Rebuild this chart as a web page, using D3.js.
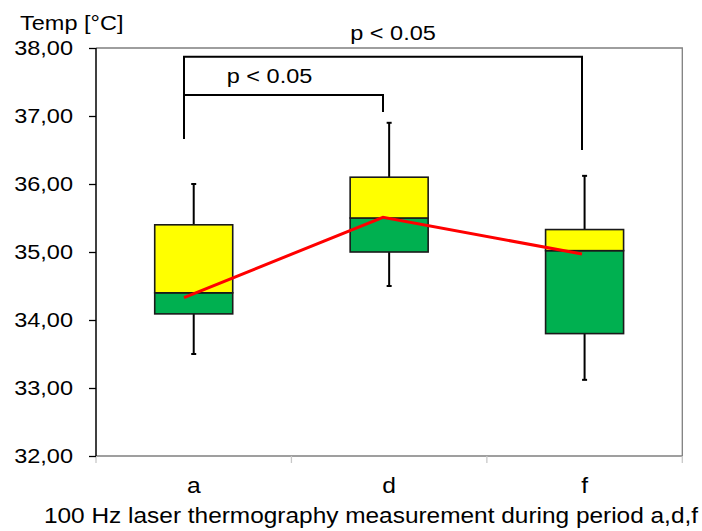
<!DOCTYPE html>
<html>
<head>
<meta charset="utf-8">
<script src="https://cdn.jsdelivr.net/npm/d3@7"></script>
<style>
  html, body { margin: 0; padding: 0; background: #fff; }
  svg { display: block; }
  text { font-family: "Liberation Sans", Arial, sans-serif; fill: #000; }
</style>
</head>
<body>
<svg id="chart" width="702" height="531"></svg>
<script>
// Measurement periods
const categories = ["a", "d", "f"];

// Box plot statistics per period (°C)
const whiskerLow  = [33.50, 34.50, 33.12];
const quartile1   = [34.09, 35.00, 33.80];
const medians     = [34.40, 35.50, 35.02];
const quartile3   = [35.40, 36.10, 35.33];
const whiskerHigh = [36.00, 36.90, 36.12];

// Mean temperature per period (red line)
const means = [34.33, 35.51, 34.97];

// Y axis ticks
const yTicks = [32, 33, 34, 35, 36, 37, 38];

// Significance brackets: compared periods, bracket height, ends of the drops (°C)
const bracketFrom  = ["a", "a"];
const bracketTo    = ["d", "f"];
const bracketLevel = [37.31, 37.87];
const bracketLeftEnd  = [36.66, 36.66];
const bracketRightEnd = [37.06, 36.50];
const bracketLabels = ["p < 0.05", "p < 0.05"];

const axisTitleY = "Temp [°C]";
const axisTitleX = "100 Hz laser thermography measurement during period a,d,f";

const FONT = 21, SX = 1.12;
const svg = d3.select("#chart");
const plotLeft = 96, plotRight = 682.3, plotTop = 48, plotBottom = 456;

const y = d3.scaleLinear().domain([32, 38]).range([plotBottom, plotTop]);
const x = d3.scaleBand().domain(categories).range([plotLeft, plotRight]).paddingInner(0).paddingOuter(0);
// the mean line and the brackets sit on a slightly shifted category axis
const xLine = d3.scalePoint().domain(categories).range([plotLeft + 88, plotLeft + 486]);

const stretch = (sel, size = FONT) => sel.style("font-size", size + "px");

// plot frame (top and right)
svg.append("path")
  .attr("d", `M${plotLeft},${plotTop}H${plotRight}V${plotBottom}`)
  .attr("fill", "none").attr("stroke", "#7f7f7f").attr("stroke-width", 1.3);

// x axis line and category separators
svg.append("line")
  .attr("x1", plotLeft).attr("x2", plotRight).attr("y1", plotBottom).attr("y2", plotBottom)
  .attr("stroke", "#7f7f7f").attr("stroke-width", 1.3);
const sepX = categories.map(c => x(c)).concat([x(categories[categories.length - 1]) + x.bandwidth()]);
svg.append("g").selectAll("line").data(sepX).join("line")
  .attr("x1", d => d).attr("x2", d => d)
  .attr("y1", plotBottom).attr("y2", plotBottom + 7)
  .attr("stroke", "#c8c8c8").attr("stroke-width", 1.3);

// x axis labels
const xAxis = svg.append("g").attr("transform", `translate(0,${plotBottom})`)
  .call(d3.axisBottom(x).tickSize(0).tickPadding(0));
xAxis.select(".domain").remove();
xAxis.attr("font-family", null).attr("font-size", null);
xAxis.selectAll("text")
  .attr("y", 0).attr("dy", 0)
  .attr("transform", `translate(0,37) scale(${SX},1)`)
  .call(stretch, 22);

// y axis
const yAxis = svg.append("g").attr("transform", `translate(${plotLeft},0)`)
  .call(d3.axisLeft(y).tickValues(yTicks).tickSize(7)
        .tickFormat(d => d.toFixed(2).replace(".", ",")));
yAxis.attr("font-family", null).attr("font-size", null);
yAxis.select(".domain").attr("stroke", "#000").attr("stroke-width", 1.5)
  .attr("d", `M0,${plotBottom}V${plotTop}`);
yAxis.selectAll(".tick line").attr("stroke", "#000").attr("stroke-width", 1.3);
yAxis.selectAll(".tick text")
  .attr("x", 0)
  .attr("transform", `translate(-23,0) scale(${SX},1)`)
  .call(stretch);

// whiskers
const boxes = categories.map((c, i) => ({
  c, lo: whiskerLow[i], q1: quartile1[i], med: medians[i], q3: quartile3[i], hi: whiskerHigh[i]
}));
const cx = d => x(d.c) + x.bandwidth() / 2;
const boxW = 78, capW = 5;

const g = svg.append("g");
g.selectAll(".wlow").data(boxes).join("line")
  .attr("x1", cx).attr("x2", cx).attr("y1", d => y(d.q1)).attr("y2", d => y(d.lo))
  .attr("stroke", "#000").attr("stroke-width", 2);
g.selectAll(".whigh").data(boxes).join("line")
  .attr("x1", cx).attr("x2", cx).attr("y1", d => y(d.q3)).attr("y2", d => y(d.hi))
  .attr("stroke", "#000").attr("stroke-width", 2);
g.selectAll(".caplo").data(boxes).join("line")
  .attr("x1", d => cx(d) - capW / 2).attr("x2", d => cx(d) + capW / 2)
  .attr("y1", d => y(d.lo)).attr("y2", d => y(d.lo))
  .attr("stroke", "#000").attr("stroke-width", 2);
g.selectAll(".caphi").data(boxes).join("line")
  .attr("x1", d => cx(d) - capW / 2).attr("x2", d => cx(d) + capW / 2)
  .attr("y1", d => y(d.hi)).attr("y2", d => y(d.hi))
  .attr("stroke", "#000").attr("stroke-width", 2);

// lower box (Q1 to median) in green, upper box (median to Q3) in yellow
g.selectAll(".lower").data(boxes).join("rect")
  .attr("x", d => cx(d) - boxW / 2).attr("width", boxW)
  .attr("y", d => y(d.med)).attr("height", d => y(d.q1) - y(d.med))
  .attr("fill", "#00b050").attr("stroke", "#1a1a1a").attr("stroke-width", 1.6);
g.selectAll(".upper").data(boxes).join("rect")
  .attr("x", d => cx(d) - boxW / 2).attr("width", boxW)
  .attr("y", d => y(d.q3)).attr("height", d => y(d.med) - y(d.q3))
  .attr("fill", "#ffff00").attr("stroke", "#1a1a1a").attr("stroke-width", 1.6);

// mean line
svg.append("path")
  .datum(categories.map((c, i) => [xLine(c), y(means[i])]))
  .attr("d", d3.line())
  .attr("fill", "none").attr("stroke", "#ff0000").attr("stroke-width", 3);

// significance brackets
const labelRise = [12, 17];
const labelShift = [-14, 10];
bracketFrom.forEach((f, i) => {
  const x1 = xLine(f), x2 = xLine(bracketTo[i]);
  svg.append("path")
    .attr("d", `M${x1},${y(bracketLeftEnd[i])}V${y(bracketLevel[i])}H${x2}V${y(bracketRightEnd[i])}`)
    .attr("fill", "none").attr("stroke", "#000").attr("stroke-width", 2);
  svg.append("text")
    .attr("text-anchor", "middle")
    .attr("transform", `translate(${(x1 + x2) / 2 + labelShift[i]},${y(bracketLevel[i]) - labelRise[i]}) scale(${SX},1)`)
    .text(bracketLabels[i]).call(stretch);
});

// axis titles
svg.append("text")
  .attr("transform", `translate(20,30) scale(${SX},1)`)
  .text(axisTitleY).call(stretch);
svg.append("text")
  .attr("text-anchor", "middle")
  .attr("transform", `translate(371,523) scale(1.11,1)`)
  .text(axisTitleX).call(stretch, 22);
</script>
</body>
</html>
